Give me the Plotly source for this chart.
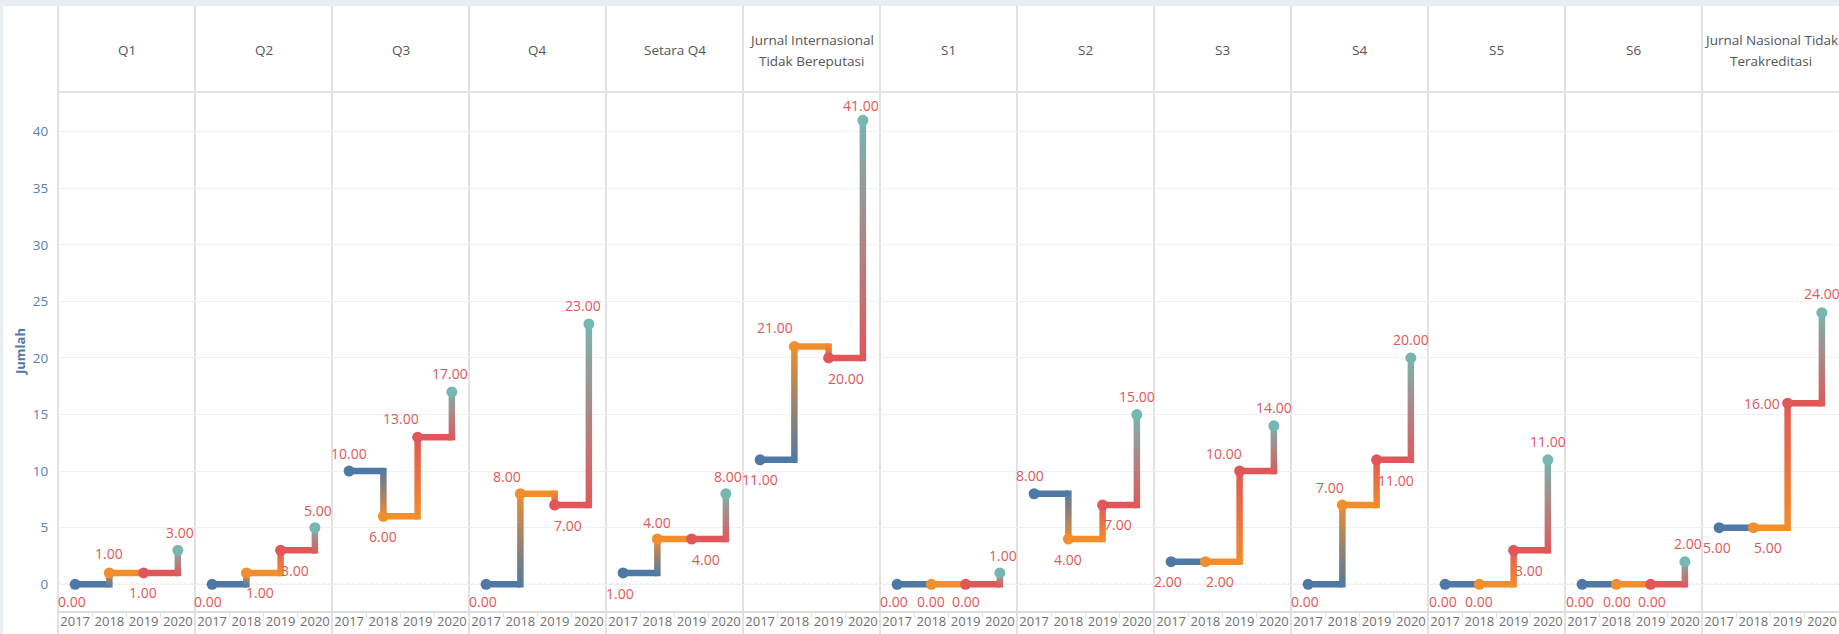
import plotly.graph_objects as go
from plotly.subplots import make_subplots

# ---------------- data ----------------
categories = ["Q1", "Q2", "Q3", "Q4", "Setara Q4",
              "Jurnal Internasional|Tidak Bereputasi",
              "S1", "S2", "S3", "S4", "S5", "S6",
              "Jurnal Nasional Tidak|Terakreditasi"]
years = ["2017", "2018", "2019", "2020"]
jumlah_2017 = [0, 0, 10, 0, 1, 11, 0, 8, 2, 0, 0, 0, 5]
jumlah_2018 = [1, 1, 6, 8, 4, 21, 0, 4, 2, 7, 0, 0, 5]
jumlah_2019 = [1, 3, 13, 7, 4, 20, 0, 7, 10, 11, 3, 0, 16]
jumlah_2020 = [3, 5, 17, 23, 8, 41, 1, 15, 14, 20, 11, 2, 24]
y_ticks = [0, 5, 10, 15, 20, 25, 30, 35, 40]

# ---------------- styles ----------------
year_colors = ["#4e79a7", "#f28e2b", "#e15759", "#76b7b2"]
label_color = "#e15759"
# label offsets in px (dx, dy) for each panel / year
label_offsets = [
    [(-3, -17), (0, 19), (-1, -20), (2, 18)],
    [(-4, -17), (14, -20), (14, -20), (3, 17.5)],
    [(0, 18), (0, -20.5), (-17, 18.5), (-2, 18.5)],
    [(-3, -17.5), (-13, 17.5), (13, -20), (-6, 18)],
    [(-3, -20.5), (0, 17), (14, -20), (2.5, 17.5)],
    [(0, -20), (-19, 19), (17, -20.5), (-2, 15)],
    [(-3, -17), (0, -17), (0, -17), (3, 17.5)],
    [(-4, 18), (0, -20), (15, -19.5), (0, 18)],
    [(-3, -20), (14.5, -20), (-16, 18), (0, 18)],
    [(-3, -17), (-12, 17.5), (19, -20.5), (0, 18.5)],
    [(-2.5, -17), (0, -17), (15, -20), (0, 18)],
    [(-2, -17), (1, -17), (1, -17), (3, 18)],
    [(-2, -20), (15, -20), (-26, 0), (0, 19)],
]

FONT = "Open Sans"
W, H = 1839, 634
ML, MT, MB = 58, 92, 22
PW = W - ML
PH = H - MT - MB
N = len(categories)
panel_px = PW / N
X_RANGE = [-0.5, 3.5]
Y_RANGE = [-2.45, 43.5]
px_x = panel_px / (X_RANGE[1] - X_RANGE[0])
px_y = PH / (Y_RANGE[1] - Y_RANGE[0])
LW = 6.5
hw = LW / 2 / px_x
hh = LW / 2 / px_y


def px2paper_x(px):
    return (px - ML) / PW


def px2paper_y(py):
    return (H - MB - py) / PH


series = [jumlah_2017, jumlah_2018, jumlah_2019, jumlah_2020]

fig = make_subplots(rows=1, cols=N, shared_yaxes=True, horizontal_spacing=0)

annotations = []
for i in range(N):
    col = i + 1
    vals = [s[i] for s in series]
    xs = list(range(len(years)))
    # horizontal steps
    for j in range(len(years) - 1):
        fig.add_trace(go.Scatter(
            x=[xs[j], xs[j + 1]], y=[vals[j], vals[j]], mode="lines",
            line=dict(color=year_colors[j], width=LW),
            hoverinfo="skip", showlegend=False), row=1, col=col)
    # vertical steps with gradient
    for j in range(len(years) - 1):
        a, b = vals[j], vals[j + 1]
        if a == b:
            continue
        lo, hi = min(a, b), max(a, b)
        if b > a:
            c_lo, c_hi = year_colors[j], year_colors[j + 1]
        else:
            c_lo, c_hi = year_colors[j + 1], year_colors[j]
        xc = xs[j + 1]
        fig.add_trace(go.Scatter(
            x=[xc - hw, xc + hw, xc + hw, xc - hw, xc - hw],
            y=[lo - hh, lo - hh, hi + hh, hi + hh, lo - hh],
            mode="lines", fill="toself",
            line=dict(width=0, color="rgba(0,0,0,0)"),
            fillgradient=dict(type="vertical", colorscale=[[0, c_lo], [1, c_hi]]),
            hoverinfo="skip", showlegend=False), row=1, col=col)
    # dots
    fig.add_trace(go.Scatter(
        x=xs, y=vals, mode="markers",
        marker=dict(color=year_colors, size=11, line=dict(width=0)),
        hovertemplate="%{y:.2f}<extra></extra>", showlegend=False), row=1, col=col)
    # value labels
    xref = "x" if i == 0 else f"x{col}"
    yref = "y" if i == 0 else f"y{col}"
    for j in range(len(years)):
        dx, dy = label_offsets[i][j]
        annotations.append(dict(
            x=xs[j], y=vals[j], xref=xref, yref=yref, text=f"{vals[j]:.2f}",
            showarrow=False, xshift=dx, yshift=dy,
            font=dict(family=FONT, size=14, color=label_color)))
    # header
    lines = categories[i].split("|")
    cx = (i + 0.5) / N
    if len(lines) == 1:
        ys = [50]
    else:
        ys = [40, 61]
    for ln, yy in zip(lines, ys):
        annotations.append(dict(
            x=cx, y=px2paper_y(yy), xref="paper", yref="paper", text=ln,
            showarrow=False, xanchor="center", yanchor="middle",
            font=dict(family=FONT, size=13.5, color="#555555")))

# y axis title
annotations.append(dict(
    x=px2paper_x(20), y=0.5, xref="paper", yref="paper", text="<b>Jumlah</b>",
    textangle=-90, showarrow=False, xanchor="center", yanchor="middle",
    font=dict(family=FONT, size=13, color="#4e79a7")))

fig.update_xaxes(
    range=X_RANGE, tickvals=list(range(len(years))), ticktext=years,
    showgrid=False, zeroline=False, showline=False, ticks="",
    tickfont=dict(family=FONT, size=13, color="#707070"),
    minor=dict(tickvals=[0.5, 1.5, 2.5], ticks="outside", ticklen=5,
               tickcolor="#e3e3e3", showgrid=False),
    fixedrange=True)
fig.update_yaxes(
    range=Y_RANGE, tickvals=y_ticks, showgrid=True, gridcolor="#f1f1f1",
    gridwidth=1, zeroline=False, showline=False, fixedrange=True)
fig.update_yaxes(ticks="outside", ticklen=6, tickcolor="rgba(0,0,0,0)",
                 tickfont=dict(family=FONT, size=13.5, color="#5a7fae"),
                 row=1, col=1)

shapes = []
band = "#e9eef2"
# frame bands
shapes.append(dict(type="rect", xref="paper", yref="paper",
                   x0=px2paper_x(0), x1=px2paper_x(3), y0=px2paper_y(H + 5), y1=px2paper_y(-5),
                   fillcolor=band, line=dict(width=0), layer="above"))
shapes.append(dict(type="rect", xref="paper", yref="paper",
                   x0=px2paper_x(-5), x1=px2paper_x(W + 5), y0=px2paper_y(6), y1=px2paper_y(-5),
                   fillcolor=band, line=dict(width=0), layer="above"))
# panel separators
for i in range(N):
    xp = i / N
    shapes.append(dict(type="line", xref="paper", yref="paper",
                       x0=xp, x1=xp, y0=px2paper_y(H + 2), y1=px2paper_y(6),
                       line=dict(color="#d9d9d9", width=1.5), layer="below"))
# header bottom line
shapes.append(dict(type="line", xref="paper", yref="paper",
                   x0=0, x1=1, y0=1, y1=1, line=dict(color="#e4e4e4", width=2), layer="below"))
# x axis baseline
shapes.append(dict(type="line", xref="paper", yref="paper",
                   x0=0, x1=1, y0=0, y1=0, line=dict(color="#dedede", width=2), layer="below"))
# dotted zero line
shapes.append(dict(type="line", xref="paper", yref="y",
                   x0=0, x1=1, y0=0, y1=0, line=dict(color="#c8c8c8", width=1, dash="dot"),
                   layer="below"))

fig.update_layout(
    width=W, height=H,
    margin=dict(l=ML, r=0, t=MT, b=MB, pad=0),
    paper_bgcolor="white", plot_bgcolor="white",
    font=dict(family=FONT),
    annotations=annotations, shapes=shapes,
    showlegend=False,
)

fig.write_html(
    "out.html", config={"displayModeBar": False, "responsive": False},
    post_script=("document.documentElement.style.overflow='hidden';"
                 "document.documentElement.style.margin='0';"
                 "document.body.style.margin='0';document.body.style.padding='0';"
                 "document.body.style.overflow='hidden';"
                 "var gd=document.getElementById('{plot_id}');"
                 "gd.style.position='absolute';gd.style.left='0px';gd.style.top='0px';"))
